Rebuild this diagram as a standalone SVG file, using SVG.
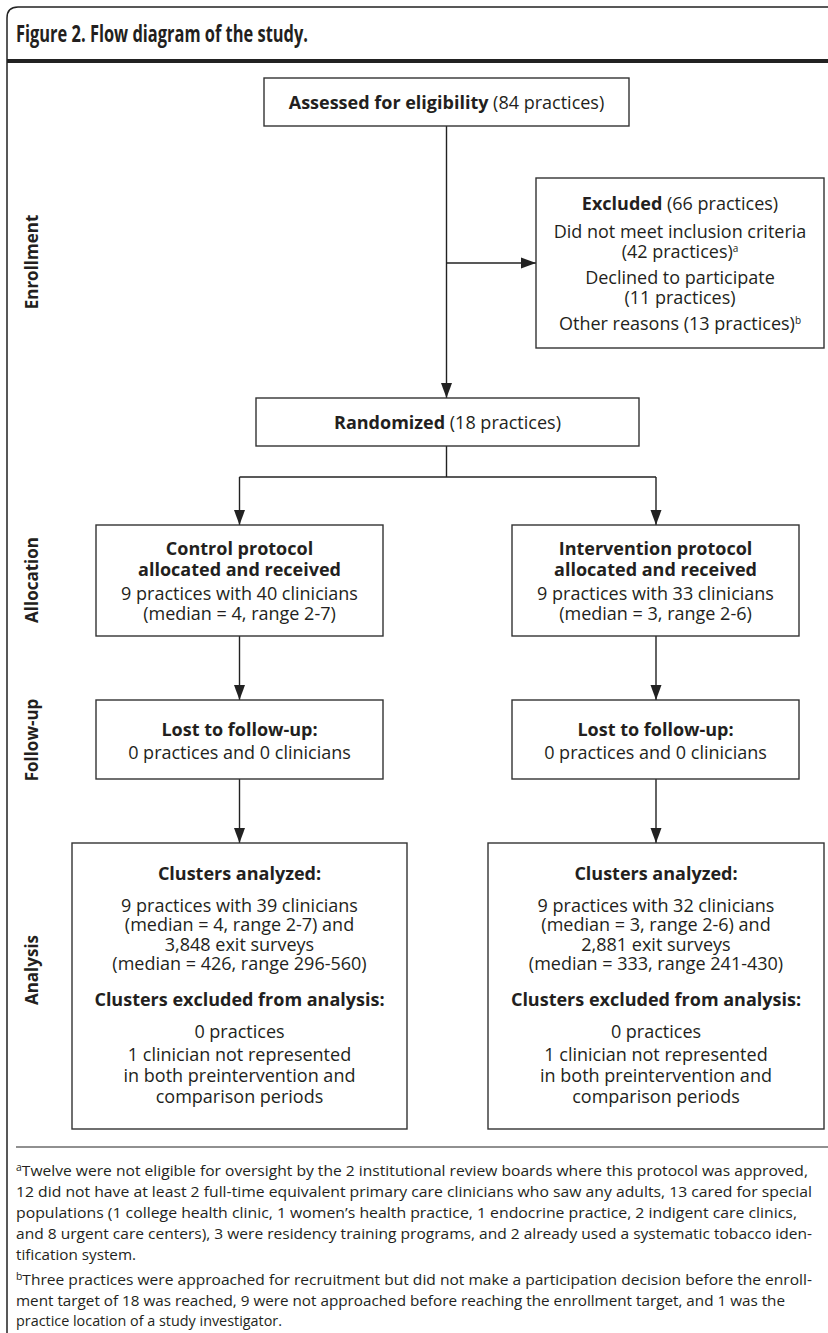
<svg xmlns="http://www.w3.org/2000/svg" width="828" height="1333" viewBox="0 0 828 1333">
<style>
.t{font-family:"Open Sans","Noto Sans","Liberation Sans",sans-serif;font-size:18px;fill:#231f20;text-anchor:middle}
.b{font-weight:bold}
.lbl{font-family:"Open Sans","Noto Sans","Liberation Sans",sans-serif;font-size:17px;font-weight:bold;fill:#231f20;text-anchor:middle}
.fn{font-family:"Open Sans","Noto Sans","Liberation Sans",sans-serif;font-size:15px;fill:#231f20}
.box{fill:#fff;stroke:#333;stroke-width:1.4}
.con{stroke:#222;stroke-width:1.4;fill:none}
.sup{font-size:10px}
</style>
<defs>
<marker id="ah" markerUnits="userSpaceOnUse" markerWidth="15" markerHeight="12" refX="15" refY="6" orient="auto">
<path d="M0,0.5 L15,6 L0,11.5 Z" fill="#222"/>
</marker>
</defs>
<rect width="828" height="1333" fill="#fff"/>
<g id="frame">
<path d="M7,1333 L7,18 Q7,7 18,7 L828,7" fill="none" stroke="#222" stroke-width="1.5"/>
<text x="16" y="42" style="font-family:'Open Sans','Noto Sans','Liberation Sans',sans-serif;font-size:23px;font-weight:bold;fill:#231f20" textLength="292" lengthAdjust="spacingAndGlyphs">Figure 2. Flow diagram of the study.</text>
<line x1="7" y1="61" x2="828" y2="61" stroke="#222" stroke-width="4"/>
</g>
<g id="stage-labels">
<text class="lbl" transform="translate(38,262) rotate(-90)">Enrollment</text>
<text class="lbl" transform="translate(38,580) rotate(-90)">Allocation</text>
<text class="lbl" transform="translate(38,740) rotate(-90)">Follow-up</text>
<text class="lbl" transform="translate(38,970) rotate(-90)">Analysis</text>
</g>
<g id="connectors">
<line class="con" x1="446.5" y1="126" x2="446.5" y2="398" marker-end="url(#ah)"/>
<line class="con" x1="446.5" y1="263" x2="536" y2="263" marker-end="url(#ah)"/>
<polyline class="con" points="446.5,446 446.5,477"/>
<polyline class="con" points="239.5,477 656,477"/>
<line class="con" x1="239.5" y1="477" x2="239.5" y2="525" marker-end="url(#ah)"/>
<line class="con" x1="656" y1="477" x2="656" y2="525" marker-end="url(#ah)"/>
<line class="con" x1="239.5" y1="636" x2="239.5" y2="700" marker-end="url(#ah)"/>
<line class="con" x1="656" y1="636" x2="656" y2="700" marker-end="url(#ah)"/>
<line class="con" x1="239.5" y1="779" x2="239.5" y2="843" marker-end="url(#ah)"/>
<line class="con" x1="656" y1="779" x2="656" y2="843" marker-end="url(#ah)"/>
</g>
<g id="assessed">
<rect class="box" x="264" y="78" width="365" height="48"/>
<text class="t" x="446.5" y="108.5"><tspan class="b">Assessed for eligibility</tspan> (84 practices)</text>
</g>
<g id="excluded">
<rect class="box" x="536" y="178" width="288" height="170"/>
<text class="t" x="680" y="210"><tspan class="b">Excluded</tspan> (66 practices)</text>
<text class="t" x="680" y="238">Did not meet inclusion criteria</text>
<text class="t" x="680" y="258">(42 practices)<tspan class="sup" dy="-6">a</tspan></text>
<text class="t" x="680" y="284">Declined to participate</text>
<text class="t" x="680" y="304">(11 practices)</text>
<text class="t" x="680" y="330">Other reasons (13 practices)<tspan class="sup" dy="-6">b</tspan></text>
</g>
<g id="randomized">
<rect class="box" x="256" y="398" width="383" height="48"/>
<text class="t" x="447.5" y="428.5"><tspan class="b">Randomized</tspan> (18 practices)</text>
</g>
<g id="control">
<rect class="box" x="96" y="525" width="287" height="111"/>
<text class="t b" x="239.5" y="555">Control protocol</text>
<text class="t b" x="239.5" y="576">allocated and received</text>
<text class="t" x="239.5" y="600">9 practices with 40 clinicians</text>
<text class="t" x="239.5" y="620">(median = 4, range 2-7)</text>
</g>
<g id="intervention">
<rect class="box" x="512" y="525" width="287" height="111"/>
<text class="t b" x="655.5" y="555">Intervention protocol</text>
<text class="t b" x="655.5" y="576">allocated and received</text>
<text class="t" x="655.5" y="600">9 practices with 33 clinicians</text>
<text class="t" x="655.5" y="620">(median = 3, range 2-6)</text>
</g>
<g id="lost-control">
<rect class="box" x="96" y="700" width="287" height="79"/>
<text class="t b" x="239.5" y="736">Lost to follow-up:</text>
<text class="t" x="239.5" y="759">0 practices and 0 clinicians</text>
</g>
<g id="lost-intervention">
<rect class="box" x="512" y="700" width="287" height="79"/>
<text class="t b" x="655.5" y="736">Lost to follow-up:</text>
<text class="t" x="655.5" y="759">0 practices and 0 clinicians</text>
</g>
<g id="analysis-control">
<rect class="box" x="72" y="843" width="335" height="286"/>
<text class="t b" x="239.5" y="880">Clusters analyzed:</text>
<text class="t" x="239.5" y="912">9 practices with 39 clinicians</text>
<text class="t" x="239.5" y="931">(median = 4, range 2-7) and</text>
<text class="t" x="239.5" y="951">3,848 exit surveys</text>
<text class="t" x="239.5" y="970">(median = 426, range 296-560)</text>
<text class="t b" x="239.5" y="1006">Clusters excluded from analysis:</text>
<text class="t" x="239.5" y="1038">0 practices</text>
<text class="t" x="239.5" y="1061">1 clinician not represented</text>
<text class="t" x="239.5" y="1082">in both preintervention and</text>
<text class="t" x="239.5" y="1103">comparison periods</text>
</g>
<g id="analysis-intervention">
<rect class="box" x="488" y="843" width="336" height="286"/>
<text class="t b" x="656" y="880">Clusters analyzed:</text>
<text class="t" x="656" y="912">9 practices with 32 clinicians</text>
<text class="t" x="656" y="931">(median = 3, range 2-6) and</text>
<text class="t" x="656" y="951">2,881 exit surveys</text>
<text class="t" x="656" y="970">(median = 333, range 241-430)</text>
<text class="t b" x="656" y="1006">Clusters excluded from analysis:</text>
<text class="t" x="656" y="1038">0 practices</text>
<text class="t" x="656" y="1061">1 clinician not represented</text>
<text class="t" x="656" y="1082">in both preintervention and</text>
<text class="t" x="656" y="1103">comparison periods</text>
</g>
<g id="footnotes">
<line x1="16" y1="1147" x2="828" y2="1147" stroke="#222" stroke-width="1.2"/>
<text class="fn" x="16" y="1176" textLength="792" lengthAdjust="spacingAndGlyphs"><tspan class="sup" dy="-5">a</tspan><tspan dy="5">Twelve were not eligible for oversight by the 2 institutional review boards where this protocol was approved,</tspan></text>
<text class="fn" x="16" y="1197" textLength="796" lengthAdjust="spacingAndGlyphs">12 did not have at least 2 full-time equivalent primary care clinicians who saw any adults, 13 cared for special</text>
<text class="fn" x="16" y="1218" textLength="781" lengthAdjust="spacingAndGlyphs">populations (1 college health clinic, 1 women’s health practice, 1 endocrine practice, 2 indigent care clinics,</text>
<text class="fn" x="16" y="1239" textLength="796" lengthAdjust="spacingAndGlyphs">and 8 urgent care centers), 3 were residency training programs, and 2 already used a systematic tobacco iden-</text>
<text class="fn" x="16" y="1260" textLength="120" lengthAdjust="spacingAndGlyphs">tification system.</text>
<text class="fn" x="16" y="1285" textLength="796" lengthAdjust="spacingAndGlyphs"><tspan class="sup" dy="-5">b</tspan><tspan dy="5">Three practices were approached for recruitment but did not make a participation decision before the enroll-</tspan></text>
<text class="fn" x="16" y="1306" textLength="769" lengthAdjust="spacingAndGlyphs">ment target of 18 was reached, 9 were not approached before reaching the enrollment target, and 1 was the</text>
<text class="fn" x="16" y="1326" textLength="266" lengthAdjust="spacingAndGlyphs">practice location of a study investigator.</text>
</g>
</svg>
